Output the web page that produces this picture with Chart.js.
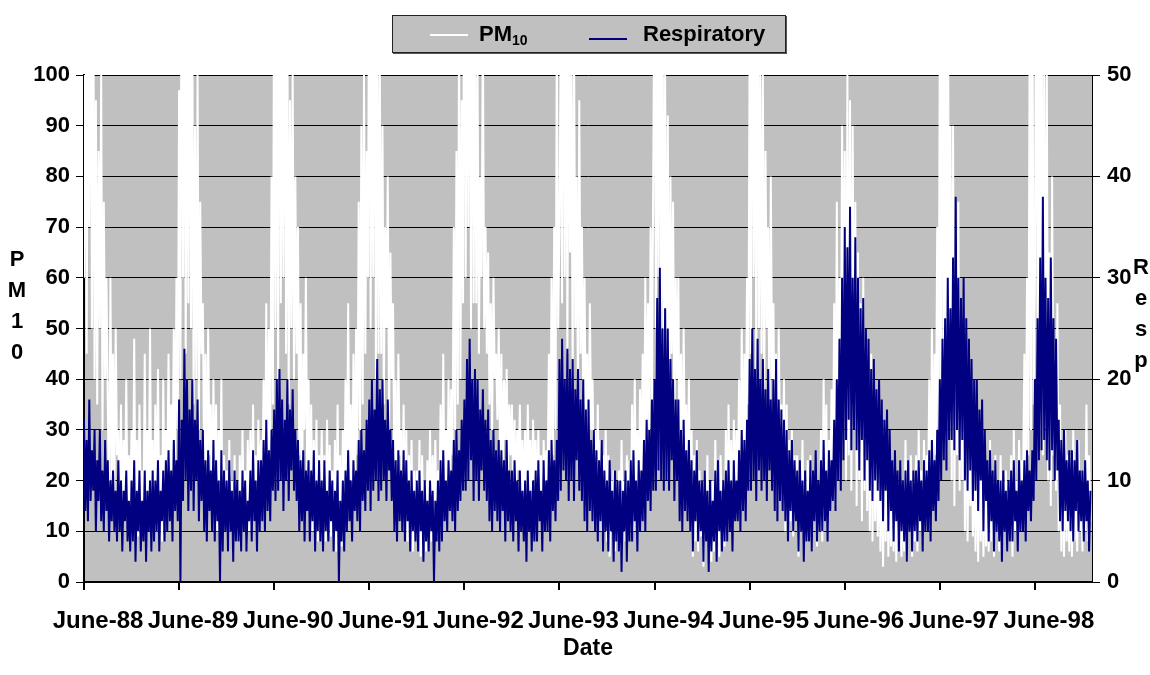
<!DOCTYPE html>
<html>
<head>
<meta charset="utf-8">
<script src="https://cdn.jsdelivr.net/npm/chart.js@4.4.1/dist/chart.umd.min.js"></script>
<style>
    body { margin: 0; background: #fff; font-family: "Liberation Sans", Arial, sans-serif; }
    #wrap { position: relative; width: 1150px; height: 675px; }
    #legend {
        position: absolute; left: 392px; top: 15px; width: 392px; height: 36px;
        background: #c0c0c0; border: 1px solid #222; box-shadow: 1px 1px 0 #555;
        font-weight: bold; font-size: 22px; color: #000;
    }
    #legend .swatch { position: absolute; width: 38px; height: 2px; }
    #legend .txt { position: absolute; top: 5px; line-height: 26px; }
    #legend sub { font-size: 14px; vertical-align: -4px; }
    .stack {
        position: absolute; width: 34px; text-align: center;
        font-weight: bold; font-size: 22px; line-height: 31px; color: #000;
    }
</style>
</head>
<body>
<div id="wrap">
    <canvas id="chart"></canvas>
    <div id="legend">
        <div class="swatch" style="left:37px; top:18px; background:#fff;"></div>
        <div class="txt" style="left:86px;">PM<sub>10</sub></div>
        <div class="swatch" style="left:196px; top:22px; background:#000080;"></div>
        <div class="txt" style="left:250px;">Respiratory</div>
    </div>
    <div class="stack" style="left:0px; top:243px;">P<br>M<br>1<br>0</div>
    <div class="stack" style="left:1124px; top:251px;">R<br>e<br>s<br>p</div>
</div>

<script>
// =========================
// DATA (one reading about every 5 days from June 1988)
// =========================
const POINTS_PER_YEAR = 72;

const yearLabels = ["June-88", "June-89", "June-90", "June-91", "June-92", "June-93",
                    "June-94", "June-95", "June-96", "June-97", "June-98"];
const pmTicks = [0, 10, 20, 30, 40, 50, 60, 70, 80, 90, 100];
const respTicks = [0, 10, 20, 30, 40, 50];

// PM10 (left axis), one row per June-to-May year
const pm10 = [
    60,130,45,110,70,140,50,125,40, 95,35,85,50,100,30,75,40,60, 35,15,60,20,45,18,50,25,30, 12,35,10,28,15,40,11,25,14,
    30,8,48,12,28,9,35,14,22, 10,45,8,30,15,50,12,28,9, 35,10,42,14,25,8,40,12,30, 18,45,15,35,20,50,22,60,30,
    97,40,150,60,130,45,120,55,140, 50,110,35,90,40,100,30,75,45, 55,20,45,15,50,25,35,12,40, 15,35,10,30,12,40,8,25,14,
    22,6,28,10,20,5,25,8,18, 8,25,6,30,12,22,7,28,10, 30,10,35,12,25,8,32,15,28, 15,40,12,55,20,50,25,80,35,
    130,50,120,40,160,55,110,60,140, 45,110,35,95,50,100,40,80,45, 70,25,55,15,45,30,60,20,40, 15,35,10,28,12,32,8,25,14,
    30,10,25,8,32,12,27,9,22, 8,28,6,35,10,25,7,30,12, 40,15,55,20,35,12,45,18,50, 25,75,30,90,35,100,45,85,60,
    140,50,110,60,150,40,120,45,100, 45,90,35,70,50,80,30,65,40, 55,20,40,12,45,25,30,15,35, 10,30,8,25,12,28,6,22,10,
    22,8,28,5,25,10,20,6,24, 10,30,8,25,12,28,9,22,14, 35,10,45,15,30,12,40,18,38, 25,70,30,85,35,110,40,95,55,
    160,60,130,70,150,50,140,55,120, 55,100,45,80,60,110,50,70,45, 65,35,55,30,60,40,45,32,50, 25,45,20,40,28,42,22,35,25,
    35,18,32,15,30,22,35,16,28, 15,30,12,35,18,28,14,32,20, 28,12,30,15,25,10,28,18,26, 20,45,18,60,25,70,30,110,50,
    70,110,55,150,60,130,45,120,65, 100,40,110,50,80,35,95,45,70, 35,60,25,45,20,55,30,40,22, 30,12,35,15,28,10,25,14,30,
    8,25,5,20,10,22,6,18,9, 22,6,28,10,20,8,25,12,24, 12,35,10,40,15,30,12,38,18, 45,20,60,25,55,30,70,35,80,
    130,50,110,60,140,45,120,40,100, 35,92,30,80,45,75,32,60,40, 60,20,45,15,50,25,35,18,40, 10,30,5,25,8,28,6,22,9,
    20,3,22,8,25,5,18,4,20, 6,28,8,22,5,25,10,20,7, 30,8,35,12,28,10,32,15,30, 18,40,15,50,20,45,25,60,35,
    110,45,150,60,120,40,130,50,100, 45,100,35,85,50,70,30,80,40, 55,20,45,15,50,25,35,18,40, 10,35,8,28,12,30,9,25,12,
    25,5,22,10,28,6,20,8,24, 8,25,6,20,12,22,7,18,10, 30,8,40,12,35,10,28,15,38, 20,55,15,75,25,60,30,90,45,
    85,20,100,25,95,18,90,30,75, 15,65,20,55,12,60,18,45,14, 40,10,45,8,35,12,30,9,28, 6,28,3,25,8,30,5,22,7,
    20,6,25,4,18,8,22,5,20, 6,28,4,22,10,25,5,20,8, 25,6,30,10,22,8,28,12,25, 15,40,12,50,20,45,25,70,30,
    110,30,150,40,130,25,140,35,90, 20,90,15,60,25,75,18,50,20, 50,10,40,8,35,15,30,9,28, 6,30,4,25,8,28,5,22,7,
    22,6,28,8,20,5,25,10,18, 6,25,5,20,10,22,6,18,8, 25,5,30,10,20,8,28,12,24, 20,45,15,60,25,110,30,130,35,
    60,140,45,120,30,130,25,100,40, 100,20,65,15,80,25,45,18,55, 10,35,6,28,5,30,8,25,6, 25,5,30,8,22,6,28,10,20,
    6,22,10,35,8,25,12
];

// Respiratory admissions (right axis), same dates
const resp = [
    16,7,14,6,18,8,13,9,15, 5,12,8,15,6,11,5,14,7, 12,4,10,6,11,5,9,4,12, 5,10,3,9,6,11,4,8,3,
    10,4,12,2,9,5,11,3,8, 4,11,2,9,5,10,3,11,4, 10,5,12,3,9,6,11,4,12, 5,13,6,11,4,14,7,12,6,
    18,0,16,8,23,10,20,7,17, 9,20,7,16,10,18,6,14,8, 15,5,12,4,13,7,11,5,14, 4,12,6,10,0,13,3,11,5,
    10,3,12,5,9,2,11,4,10, 4,9,3,11,5,10,3,8,6, 11,4,13,6,10,3,12,5,12, 6,14,5,16,7,13,6,15,9,
    17,8,20,9,21,10,18,7,16, 10,20,8,17,11,19,9,15,8, 14,5,12,6,13,4,11,7,12, 4,11,6,13,3,10,5,12,4,
    10,3,12,5,9,4,11,6,10, 3,9,5,11,0,8,4,10,3, 11,5,13,6,10,4,12,7,11, 6,14,5,15,8,13,7,16,9,
    18,7,20,9,17,10,22,8,19, 9,20,10,16,8,18,11,15,8, 14,5,12,4,13,6,11,5,13, 4,12,6,10,3,11,5,9,4,
    10,3,11,5,9,2,10,4,8, 3,10,5,9,0,8,4,10,3, 12,4,13,6,10,5,12,7,11, 6,14,5,15,7,13,8,16,9,
    18,9,22,10,24,12,20,8,21, 10,20,8,17,11,19,9,16,8, 17,6,14,5,15,7,13,6,14, 5,13,7,12,4,14,6,11,5,
    11,4,12,6,10,3,11,5,9, 4,10,2,11,5,9,3,10,4, 11,4,12,6,9,3,12,5,10, 5,13,4,14,7,12,6,14,8,
    22,9,24,11,20,10,23,8,21, 10,22,8,19,12,21,9,18,8, 20,6,17,5,18,7,14,6,15, 5,13,4,12,6,14,3,11,5,
    10,3,12,5,9,2,11,4,10, 3,10,1,9,5,11,2,10,4, 12,4,13,6,10,3,12,5,11, 6,14,5,16,8,15,7,18,9,
    20,9,28,11,31,10,25,9,27, 10,25,9,22,12,20,8,18,10, 18,6,15,5,16,7,13,6,14, 5,12,3,11,6,13,4,10,5,
    10,2,11,4,9,1,10,3,8, 4,11,2,12,5,9,3,10,4, 11,4,12,5,10,3,12,6,10, 6,13,5,15,7,14,6,16,9,
    22,9,25,10,21,8,24,11,20, 9,22,10,19,8,21,11,18,9, 20,7,22,6,18,8,17,7,16, 6,15,4,13,7,14,5,12,6,
    11,3,12,5,10,2,11,4,9, 4,12,3,11,6,13,4,10,5, 12,5,14,6,11,4,13,7,12, 8,16,7,20,10,24,9,30,12,
    35,14,33,16,37,13,30,15,34, 13,30,11,27,14,28,10,25,12, 24,9,21,8,22,10,19,9,20, 8,18,6,16,9,17,5,15,7,
    12,4,13,6,11,3,12,5,10, 4,11,2,12,5,10,3,11,5, 11,4,12,6,10,3,12,5,11, 5,13,4,14,7,12,6,15,8,
    20,10,24,12,26,11,30,14,27, 14,32,13,38,15,30,12,28,14, 30,10,26,9,24,11,22,8,20, 9,20,7,17,10,18,5,15,8,
    12,4,13,6,11,3,12,5,10, 4,10,2,11,5,9,3,10,4, 11,4,12,6,9,3,12,5,10, 5,12,4,13,7,11,6,13,8,
    20,10,26,12,32,13,38,14,30, 12,28,11,32,13,26,10,24,11, 16,6,14,5,15,7,12,6,13, 5,13,4,12,7,14,5,11,6,
    11,4,12,6,10,3,9
];

// =========================
// HELPERS
// =========================
const FONT = { family: "Liberation Sans", size: 22, weight: "bold" };
const X_FONT = { family: "Liberation Sans", size: 24, weight: "bold" };

function toPoints(values) {
    return values.map((v, i) => ({ x: i / POINTS_PER_YEAR, y: v }));
}

// grey plot area like the old spreadsheet chart
const plotBackground = {
    id: "plotBackground",
    beforeDraw(chart) {
        const { ctx, chartArea: a } = chart;
        ctx.save();
        ctx.fillStyle = "#c0c0c0";
        ctx.fillRect(a.left, a.top, a.right - a.left, a.bottom - a.top);
        ctx.restore();
    }
};

// =========================
// RENDER CHART
// =========================
const canvas = document.getElementById("chart");
canvas.width = 1150;
canvas.height = 675;

new Chart(canvas.getContext("2d"), {
    type: "line",
    data: {
        datasets: [
            {
                label: "PM10",
                data: toPoints(pm10),
                yAxisID: "y",
                borderColor: "#ffffff",
                borderWidth: 2,
                pointRadius: 0,
                order: 1
            },
            {
                label: "Respiratory",
                data: toPoints(resp),
                yAxisID: "y1",
                borderColor: "#000080",
                borderWidth: 2,
                pointRadius: 0,
                order: 0
            }
        ]
    },
    options: {
        responsive: false,
        animation: false,
        events: [],
        layout: { padding: { top: 75, left: 0, right: 0, bottom: 0 } },
        plugins: {
            legend: { display: false },
            tooltip: { enabled: false }
        },
        scales: {
            x: {
                type: "linear",
                min: 0,
                max: 10.6,
                afterBuildTicks: s => { s.ticks = yearLabels.map((_, i) => ({ value: i })); },
                afterFit: s => { s.height = 93; },
                ticks: {
                    autoSkip: false,
                    maxRotation: 0,
                    minRotation: 0,
                    labelOffset: 14,
                    padding: 17,
                    color: "#000",
                    font: X_FONT,
                    callback: v => yearLabels[v]
                },
                grid: { drawOnChartArea: false, tickLength: 8, color: "#000", lineWidth: 2 },
                border: { color: "#000", width: 2 },
                title: {
                    display: true,
                    text: "Date",
                    color: "#000",
                    font: { family: "Liberation Sans", size: 23, weight: "bold" },
                    padding: { top: 0, bottom: 13 }
                }
            },
            y: {
                position: "left",
                min: 0,
                max: 100,
                afterBuildTicks: s => { s.ticks = pmTicks.map(v => ({ value: v })); },
                afterFit: s => { s.width = 84; },
                ticks: { padding: 6, color: "#000", font: FONT },
                grid: { color: "#000", lineWidth: 1, tickLength: 8 },
                border: { color: "#000", width: 2 }
            },
            y1: {
                position: "right",
                min: 0,
                max: 50,
                afterBuildTicks: s => { s.ticks = respTicks.map(v => ({ value: v })); },
                afterFit: s => { s.width = 58; },
                ticks: { padding: 7, color: "#000", font: FONT },
                grid: { drawOnChartArea: false, color: "#000", lineWidth: 1, tickLength: 8 },
                border: { color: "#000", width: 1 }
            }
        }
    },
    plugins: [plotBackground]
});
</script>
</body>
</html>
